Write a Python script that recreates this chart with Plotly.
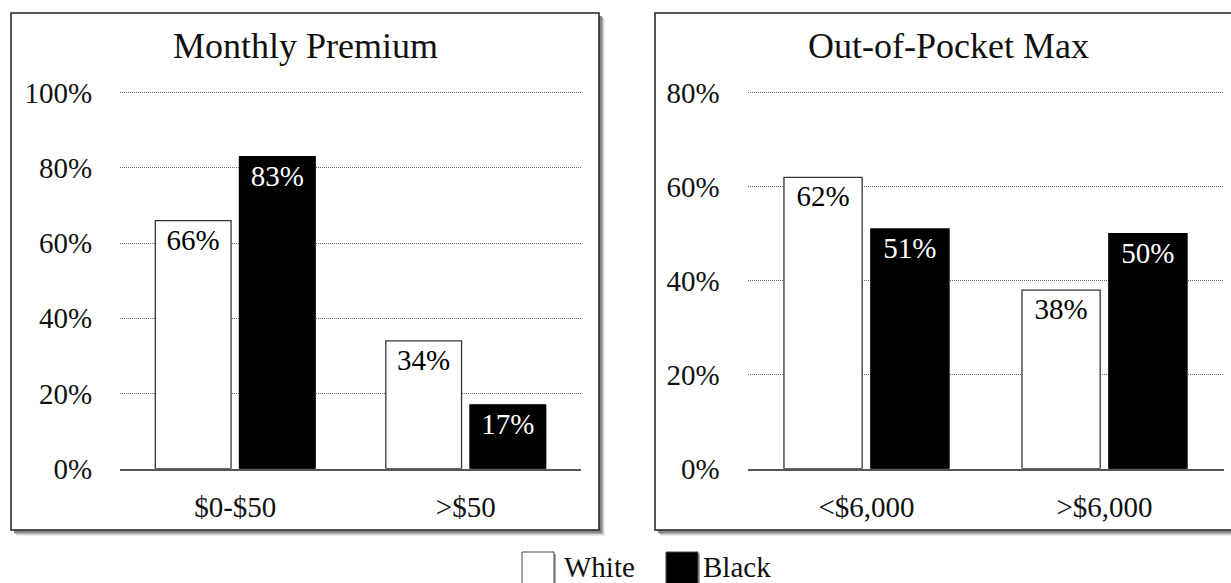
import plotly.graph_objects as go

# ---- data ----
premium_cats = ["$0-$50", ">$50"]
premium_white = [66, 34]
premium_black = [83, 17]

oop_cats = ["<$6,000", ">$6,000"]
oop_white = [62, 38]
oop_black = [51, 50]

series_names = ["White", "Black"]
series_fill = ["#ffffff", "#000000"]
series_edge = ["#333333", "#000000"]
label_colors = ["#000000", "#ffffff"]

panel_titles = ["Monthly Premium", "Out-of-Pocket Max"]
premium_ticks = [0, 20, 40, 60, 80, 100]
oop_ticks = [0, 20, 40, 60, 80]

# ---- canvas helpers (pixel -> paper) ----
W, H = 1231, 583
FONT = "Liberation Serif"
AXIS_BOTTOM, AXIS_TOP = 468.7, 92.7   # pixel rows of the 0 tick and the top tick
HEADROOM = 1.006                      # small room above the top tick so its gridline shows


def px(x):
    return x / W


def py(y):
    return 1 - y / H


fig = go.Figure()

panels = [
    (premium_cats, [premium_white, premium_black], "x", "y"),
    (oop_cats, [oop_white, oop_black], "x2", "y2"),
]
for cats, series, xa, ya in panels:
    for i, vals in enumerate(series):
        fig.add_trace(go.Bar(
            x=cats, y=vals, name=series_names[i], xaxis=xa, yaxis=ya,
            marker=dict(color=series_fill[i],
                        line=dict(color=series_edge[i], width=1.3)),
            text=[f"{v}%" for v in vals], textposition="inside",
            insidetextanchor="end", textangle=0, constraintext="none",
            textfont=dict(family=FONT, size=29, color=label_colors[i]),
            showlegend=False, hoverinfo="skip",
        ))

top_px = AXIS_BOTTOM - (AXIS_BOTTOM - AXIS_TOP) * HEADROOM

common_x = dict(
    type="category", showline=True, linecolor="#555555", linewidth=1.5,
    ticks="outside", ticklen=12, tickcolor="rgba(0,0,0,0)",
    tickfont=dict(family=FONT, size=29, color="#111111"),
    showgrid=False, zeroline=False, fixedrange=True, automargin=False,
)
common_y = dict(
    showgrid=True, gridcolor="#666666", griddash="1px,1px", gridwidth=1,
    zeroline=False, showline=False,
    ticks="outside", ticklen=21, tickcolor="rgba(0,0,0,0)",
    tickfont=dict(family=FONT, size=29, color="#111111"),
    domain=[py(AXIS_BOTTOM), py(top_px)], fixedrange=True, automargin=False,
)

fig.update_layout(
    width=W, height=H, autosize=False,
    margin=dict(l=0, r=0, t=0, b=0, pad=0, autoexpand=False),
    paper_bgcolor="white", plot_bgcolor="rgba(0,0,0,0)",
    barmode="group", bargap=0.27, bargroupgap=0.1,
    font=dict(family=FONT, color="#111111"),
    xaxis=dict(common_x, domain=[px(120), px(581)], anchor="y"),
    xaxis2=dict(common_x, domain=[px(747.5), px(1223.5)], anchor="y2"),
    yaxis=dict(common_y, range=[0, premium_ticks[-1] * HEADROOM], tickvals=premium_ticks,
               ticktext=[f"{t}%" for t in premium_ticks], anchor="x"),
    yaxis2=dict(common_y, range=[0, oop_ticks[-1] * HEADROOM], tickvals=oop_ticks,
                ticktext=[f"{t}%" for t in oop_ticks], anchor="x2"),
)

# ---- panel frames with soft drop shadow ----
shapes = []
for (x0, x1) in [(11, 599), (655, 1250)]:
    y0, y1 = 13, 530
    for off, col in [(6, "#eeeeee"), (5, "#d4d4d4"), (4, "#b0b0b0"), (3, "#888888")]:
        shapes.append(dict(type="rect", xref="paper", yref="paper", layer="below",
                           x0=px(x0 + off), x1=px(x1 + off), y0=py(y1 + off), y1=py(y0 + off),
                           fillcolor=col, line=dict(width=0)))
    shapes.append(dict(type="rect", xref="paper", yref="paper", layer="below",
                       x0=px(x0), x1=px(x1), y0=py(y1), y1=py(y0),
                       fillcolor="white", line=dict(color="#222222", width=1.5)))

# ---- legend swatches ----
annotations = []
legend_x = [522, 666]
text_x = [562, 701]
for i, name in enumerate(series_names):
    sx = legend_x[i]
    shapes.append(dict(type="rect", xref="paper", yref="paper", layer="above",
                       x0=px(sx + 2), x1=px(sx + 34), y0=py(590), y1=py(554),
                       fillcolor="#aaaaaa", line=dict(width=0)))
    shapes.append(dict(type="rect", xref="paper", yref="paper", layer="above",
                       x0=px(sx), x1=px(sx + 32), y0=py(590), y1=py(552),
                       fillcolor=series_fill[i], line=dict(color="#444444", width=1)))
    annotations.append(dict(text=name, x=px(text_x[i]), y=py(567), xref="paper", yref="paper",
                            xanchor="left", yanchor="middle", showarrow=False,
                            font=dict(family=FONT, size=29, color="#111111")))

# ---- panel titles ----
for title, cx in zip(panel_titles, [305, 948]):
    annotations.append(dict(text=title, x=px(cx), y=py(46), xref="paper", yref="paper",
                            xanchor="center", yanchor="middle", showarrow=False,
                            font=dict(family=FONT, size=36, color="#111111")))

fig.update_layout(shapes=shapes, annotations=annotations)
fig.write_html("out.html")
